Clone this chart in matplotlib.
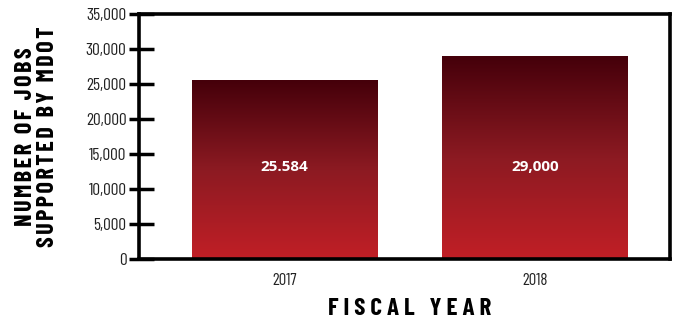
import numpy as np
import matplotlib.pyplot as plt
from matplotlib.colors import LinearSegmentedColormap
from matplotlib.ticker import FuncFormatter

years = ['2017', '2018']
jobs = [25584, 29000]
bar_labels = ['25.584', '29,000']
y_ticks = [0, 5000, 10000, 15000, 20000, 25000, 30000, 35000]

cond = ['Barlow Condensed', 'DejaVu Sans']


def tracked(s, gap='\u200a'):
    # loosen letter spacing by putting a hair space between characters
    return '\n'.join(gap.join(line) for line in s.split('\n'))


fig = plt.figure(figsize=(6.75, 3.22), dpi=100)
ax = fig.add_axes([0.206, 0.196, 0.787, 0.760])

x = np.arange(len(years))
bars = ax.bar(x, jobs, width=0.74, color='none', zorder=1)

# vertical gradient: dark maroon at the top fading to red at the bottom
cmap = LinearSegmentedColormap.from_list('jobs', ['#c11f26', '#8c1a22', '#45000a'])
grad = np.linspace(0, 1, 256).reshape(-1, 1)
for b in bars:
    ax.imshow(grad, cmap=cmap, origin='lower', aspect='auto', zorder=1,
              extent=[b.get_x(), b.get_x() + b.get_width(), 0, b.get_height()])

for xi, lab in zip(x, bar_labels):
    ax.text(xi, 13100, lab, ha='center', va='center', color='white',
            fontsize=11, fontweight='bold', family=['Open Sans', 'DejaVu Sans'])

ax.set_xlim(-0.58, 1.54)
ax.set_ylim(0, 35000)
ax.set_xticks(x)
ax.set_xticklabels(years, family=cond, fontsize=12, color='#222222')
ax.set_yticks(y_ticks)
ax.yaxis.set_major_formatter(FuncFormatter(lambda v, p: f'{int(v):,}'))
for lbl in ax.get_yticklabels():
    lbl.set_family(cond)
ax.tick_params(axis='y', which='major', labelsize=12.5, labelcolor='#222222',
               color='black', direction='out', length=7, width=2.5, pad=2)
# inner part of each tick mark
ax.set_yticks(y_ticks, minor=True)
ax.yaxis.remove_overlapping_locs = False
ax.tick_params(axis='y', which='minor', direction='in', length=11, width=2.5,
               color='black')
ax.tick_params(axis='x', length=0, pad=10)

for s in ax.spines.values():
    s.set_linewidth(2.6)
    s.set_color('black')
    s.set_zorder(3)

ax.set_ylabel(tracked('NUMBER OF JOBS\nSUPPORTED BY MDOT'), family=cond,
              fontsize=17.5, fontweight='bold', linespacing=1.0)
ax.yaxis.set_label_coords(-0.150, 0.5)
ax.set_xlabel('F I S C A L   Y E A R', family=cond, fontsize=18,
              fontweight='bold')
ax.xaxis.set_label_coords(0.51, -0.16)

fig.savefig('out.png', dpi=100)
